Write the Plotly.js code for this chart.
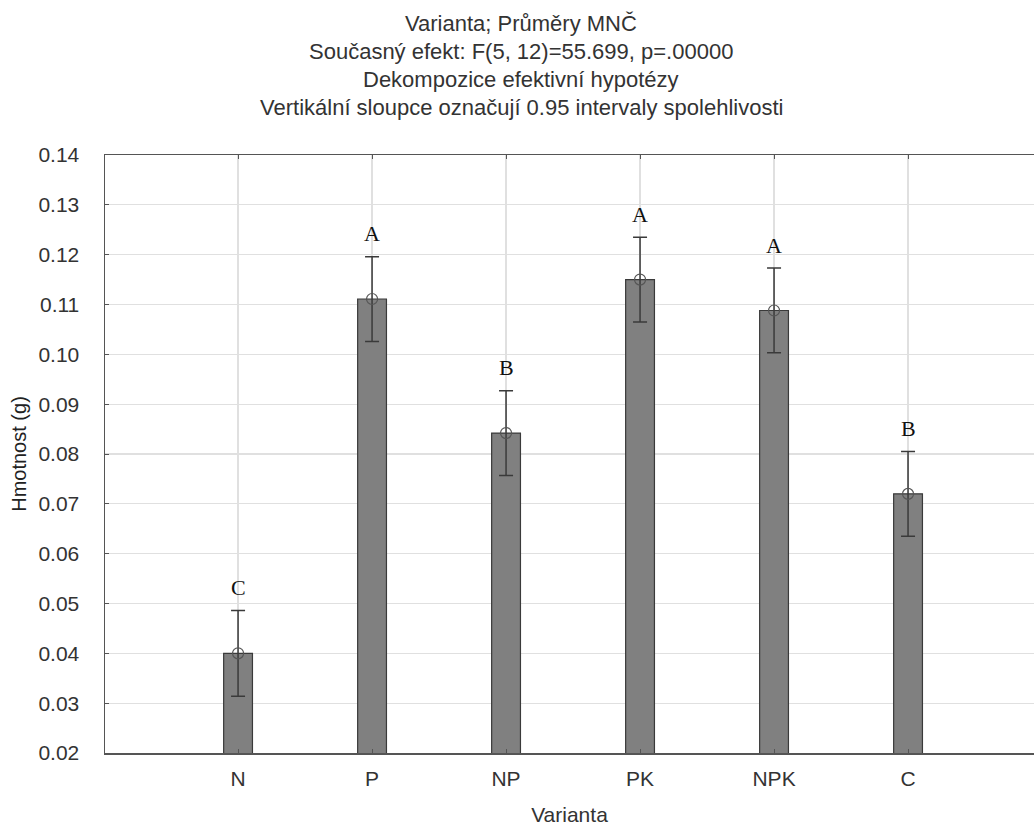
<!DOCTYPE html>
<html>
<head>
<meta charset="utf-8">
<script src="https://cdn.plot.ly/plotly-3.0.1.min.js"></script>
<style>html,body{margin:0;padding:0;background:#fff;}#chart{width:1034px;height:826px;}</style>
</head>
<body>
<div id="chart"></div>
<script>
const categories = ["N", "P", "NP", "PK", "NPK", "C"];
const means = [0.0400, 0.1111, 0.0842, 0.1150, 0.1088, 0.0720];
const ciHalf = [0.0086, 0.0085, 0.0085, 0.0085, 0.0085, 0.0085];
const groups = ["C", "A", "B", "A", "A", "B"];
const titleLines = [
  "Varianta; Průměry MNČ",
  "Současný efekt: F(5, 12)=55.699, p=.00000",
  "Dekompozice efektivní hypotézy",
  "Vertikální sloupce označují 0.95 intervaly spolehlivosti"
];
const yTitle = "Hmotnost (g)";
const xTitle = "Varianta";

const font = "Liberation Sans, Arial, sans-serif";
const txtColor = "#333333";

const bars = {
  type: "bar",
  x: categories,
  y: means,
  width: 0.215,
  marker: {color: "#808080", line: {color: "#3a3a3a", width: 1.2}},
  error_y: {type: "data", array: ciHalf, visible: true, color: "#3a3a3a", thickness: 1.5, width: 7},
  hoverinfo: "skip",
  showlegend: false
};
const pts = {
  type: "scatter",
  mode: "markers",
  x: categories,
  y: means,
  marker: {symbol: "circle-open", size: 11, color: "#555555", line: {width: 1.2}},
  hoverinfo: "skip",
  showlegend: false
};

const titlePaperY = [1.2200, 1.1732, 1.1264, 1.0796];
const annotations = titleLines.map((t, i) => ({
  text: t, xref: "paper", yref: "paper", x: 0.4483, y: titlePaperY[i],
  xanchor: "center", yanchor: "middle", showarrow: false,
  font: {family: font, size: 22, color: txtColor}
}));
categories.forEach((c, i) => {
  annotations.push({
    text: groups[i], x: c, y: means[i] + ciHalf[i], xref: "x", yref: "y",
    yshift: 23, yanchor: "middle", xanchor: "center", showarrow: false,
    font: {family: "Liberation Serif, Times New Roman, serif", size: 22, color: "#111111"}
  });
});

const layout = {
  width: 1034, height: 826,
  margin: {l: 105, r: 0, t: 155, b: 73},
  paper_bgcolor: "#ffffff", plot_bgcolor: "#ffffff",
  font: {family: font, color: txtColor, size: 21},
  xaxis: {
    type: "category",
    range: [-0.993, 5.94],
    showgrid: true, gridcolor: "#e0e0e0", gridwidth: 1.2,
    showline: true, linecolor: "#555555", linewidth: 1.5, mirror: "ticks",
    ticks: "inside", ticklen: 4, tickcolor: "#555555",
    tickfont: {family: font, size: 21, color: txtColor},
    ticklabelstandoff: 6,
    title: {text: xTitle, font: {family: font, size: 21, color: txtColor}, standoff: 20},
    zeroline: false, fixedrange: true
  },
  yaxis: {
    range: [0.02, 0.14],
    tickvals: [0.02,0.03,0.04,0.05,0.06,0.07,0.08,0.09,0.10,0.11,0.12,0.13,0.14],
    ticktext: ["0.02","0.03","0.04","0.05","0.06","0.07","0.08","0.09","0.10","0.11","0.12","0.13","0.14"],
    showgrid: true, gridcolor: "#e0e0e0", gridwidth: 1.2,
    showline: true, linecolor: "#555555", linewidth: 1.5, mirror: false,
    ticks: "inside", ticklen: 4, tickcolor: "#555555",
    tickfont: {family: font, size: 21, color: txtColor},
    ticklabelstandoff: 20,
    title: {text: yTitle, font: {family: font, size: 20, color: "#222222"}, standoff: 6},
    zeroline: false, fixedrange: true
  },
  annotations: annotations,
  bargap: 0.785
};

Plotly.newPlot("chart", [bars, pts], layout, {displayModeBar: false, staticPlot: true});
</script>
</body>
</html>
